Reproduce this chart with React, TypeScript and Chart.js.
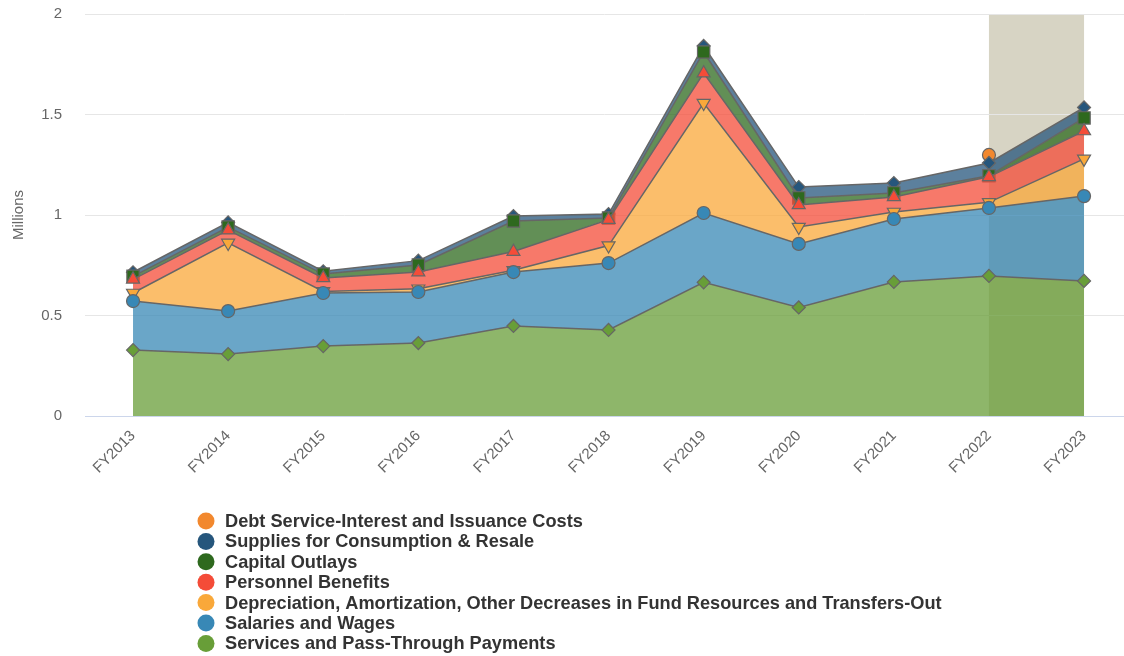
import React, { useEffect, useRef } from "react";
import { Chart, registerables } from "chart.js";

Chart.register(...registerables);

const categories = ["FY2013", "FY2014", "FY2015", "FY2016", "FY2017", "FY2018", "FY2019", "FY2020", "FY2021", "FY2022", "FY2023"];

// values in millions, stacked bottom -> top
const servicesPassThrough = [0.328, 0.308, 0.348, 0.363, 0.448, 0.428, 0.665, 0.54, 0.667, 0.697, 0.672];
const salariesWages = [0.244, 0.214, 0.264, 0.254, 0.268, 0.333, 0.345, 0.316, 0.313, 0.338, 0.422];
const depreciationTransfers = [0.04, 0.339, 0.008, 0.016, 0.009, 0.087, 0.547, 0.084, 0.035, 0.028, 0.185];
const personnelBenefits = [0.068, 0.064, 0.067, 0.083, 0.093, 0.129, 0.149, 0.11, 0.075, 0.127, 0.139];
const capitalOutlays = [0.015, 0.015, 0.019, 0.035, 0.152, 0.008, 0.105, 0.035, 0.02, 0.005, 0.065];
const suppliesResale = [0.02, 0.023, 0.014, 0.022, 0.025, 0.02, 0.03, 0.054, 0.049, 0.064, 0.052];
const debtService = [null, null, null, null, null, null, null, null, null, 0.04, null];

const yTicks = [0, 0.5, 1, 1.5, 2];
const bandFrom = 9;
const bandTo = 10;

const seriesNames = [
  "Services and Pass-Through Payments",
  "Salaries and Wages",
  "Depreciation, Amortization, Other Decreases in Fund Resources and Transfers-Out",
  "Personnel Benefits",
  "Capital Outlays",
  "Supplies for Consumption & Resale",
  "Debt Service-Interest and Issuance Costs",
];
const seriesValues: (number | null)[][] = [
  servicesPassThrough,
  salariesWages,
  depreciationTransfers,
  personnelBenefits,
  capitalOutlays,
  suppliesResale,
  debtService,
];
const seriesColors = [
  [104, 158, 56],
  [56, 136, 182],
  [249, 168, 58],
  [244, 76, 56],
  [46, 105, 30],
  [38, 86, 124],
  [242, 136, 46],
];
const seriesShapes = ["rectRot", "circle", "triangle", "triangle", "rect", "rectRot", "circle"];
const seriesRotation = [0, 0, 180, 0, 0, 0, 0];
const seriesRadius = [6.5, 6.5, 7.5, 7.5, 8.7, 6.5, 6.5];

const FONT = "'Liberation Sans', Arial, Helvetica, sans-serif";

const bandPlugin = {
  id: "band",
  beforeDraw(chart: any) {
    const { ctx, chartArea, scales } = chart;
    const x0 = scales.x.getPixelForValue(bandFrom);
    const x1 = scales.x.getPixelForValue(bandTo);
    ctx.save();
    ctx.fillStyle = "rgb(215,212,196)";
    ctx.fillRect(x0, chartArea.top, x1 - x0, chartArea.bottom - chartArea.top);
    ctx.restore();
  },
};

const legendPlugin = {
  id: "customLegend",
  afterDraw(chart: any) {
    const ctx = chart.ctx;
    ctx.save();
    ctx.font = `bold 18.2px ${FONT}`;
    ctx.textBaseline = "middle";
    ctx.textAlign = "left";
    const order = seriesNames.map((_, i) => i).reverse();
    order.forEach((idx, row) => {
      const y = 521 + row * 20.4;
      const c = seriesColors[idx];
      ctx.beginPath();
      ctx.arc(206, y, 8.5, 0, Math.PI * 2);
      ctx.fillStyle = `rgb(${c[0]},${c[1]},${c[2]})`;
      ctx.fill();
      ctx.fillStyle = "#333333";
      ctx.fillText(seriesNames[idx], 225, y + 1);
    });
    ctx.restore();
  },
};

export default function App() {
  const ref = useRef<HTMLCanvasElement>(null);
  useEffect(() => {
    const datasets = seriesNames.map((name, i) => {
      const c = seriesColors[i];
      return {
        label: name,
        data: seriesValues[i].map((v, k) => ({ x: k, y: v })),
        backgroundColor: `rgba(${c[0]},${c[1]},${c[2]},0.75)`,
        borderColor: "#666666",
        borderWidth: 1.5,
        fill: i === 0 ? "origin" : "-1",
        tension: 0,
        pointStyle: seriesShapes[i],
        pointRotation: seriesRotation[i],
        pointRadius: seriesRadius[i],
        pointBackgroundColor: `rgb(${c[0]},${c[1]},${c[2]})`,
        pointBorderColor: "#666666",
        pointBorderWidth: 1.2,
      };
    });
    const chart = new Chart(ref.current as HTMLCanvasElement, {
      type: "line",
      data: { datasets } as any,
      plugins: [bandPlugin, legendPlugin],
      options: {
        animation: false,
        responsive: false,
        maintainAspectRatio: false,
        layout: { autoPadding: false, padding: { top: 14, right: 0, left: 0, bottom: 0 } },
        plugins: { legend: { display: false }, tooltip: { enabled: false } },
        scales: {
          x: {
            type: "linear",
            min: -0.505,
            max: 10.42,
            afterBuildTicks: (s: any) => {
              s.ticks = categories.map((_, i) => ({ value: i }));
            },
            afterFit: (s: any) => {
              s.height = 240;
              s.paddingLeft = 0;
              s.paddingRight = 0;
              s.paddingTop = 0;
              s.paddingBottom = 0;
            },
            grid: { display: false, drawTicks: false },
            border: { display: true, color: "#ccd6eb", width: 1 },
            ticks: {
              autoSkip: false,
              maxRotation: 45,
              minRotation: 45,
              padding: 11,
              color: "#666666",
              font: { family: FONT, size: 15 },
              callback: (v: any) => categories[v as number] ?? "",
            },
          },
          y: {
            stacked: true,
            min: 0,
            max: 2,
            afterBuildTicks: (s: any) => {
              s.ticks = yTicks.map((v) => ({ value: v }));
            },
            afterFit: (s: any) => {
              s.width = 85;
              s.paddingLeft = 0;
              s.paddingRight = 0;
              s.paddingTop = 0;
              s.paddingBottom = 0;
            },
            grid: { color: "#e6e6e6", drawTicks: false },
            border: { display: false },
            ticks: {
              padding: 23,
              color: "#666666",
              font: { family: FONT, size: 15 },
              callback: (v: any) => String(v),
            },
            title: {
              display: true,
              text: "Millions",
              color: "#666666",
              font: { family: FONT, size: 15 },
              padding: { top: 10, bottom: 0 },
            },
          },
        },
      } as any,
    });
    return () => chart.destroy();
  }, []);
  return (
    <div style={{ position: "absolute", left: 0, top: 0, width: 1124, height: 656, background: "#fff" }}>
      <canvas ref={ref} width={1124} height={656} style={{ display: "block" }} />
    </div>
  );
}
